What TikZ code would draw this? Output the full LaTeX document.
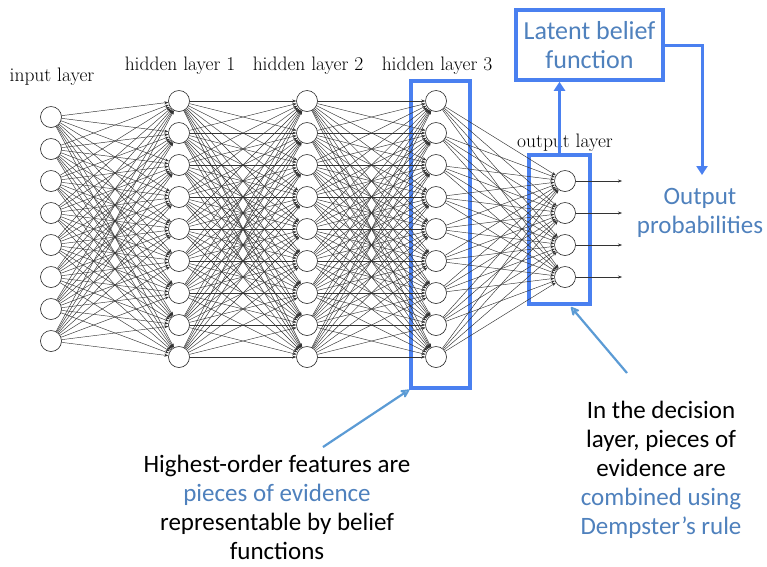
\documentclass[tikz,border=0pt]{standalone}
\usepackage{fontspec}
\newfontfamily\carl{Carlito}
\usetikzlibrary{arrows.meta}
\definecolor{boxblue}{HTML}{4A80F0}
\definecolor{txtblue}{HTML}{4F81BD}
\definecolor{arrblue}{HTML}{5B9BD5}
\begin{document}
\begin{tikzpicture}[x=1pt,y=-1pt,
  neuron/.style={circle,draw=black!85,line width=0.6pt,fill=white,minimum size=21pt,inner sep=0pt},
  edge/.style={draw=black!80,line width=0.45pt,-{Stealth[length=4pt,width=3pt]}},
  lbl/.style={font=\fontsize{19.5}{22}\selectfont,inner sep=0pt},
  bbox/.style={draw=boxblue,line width=3.5pt,inner sep=0pt},
  ctext/.style={font=\carl\fontsize{25}{29}\selectfont,align=center,inner sep=0pt},
  bconn/.style={draw=boxblue,line width=3pt,-{Triangle[length=9pt,width=11pt]}},
  pointer/.style={draw=arrblue,line width=2.2pt,-{Stealth[length=11pt,width=11pt,open,round]}}]
\useasboundingbox (0,0) rectangle (767,566);
\fill[white] (0,0) rectangle (767,566);
% highlight boxes
\node[bbox,minimum width=59pt,minimum height=307pt] (h3box) at (440.5,234.5) {};
\node[bbox,minimum width=61pt,minimum height=149pt] (outbox) at (559.5,229.5) {};
% neurons
\foreach \i in {1,...,8} \node[neuron] (in-\i) at (51,{117+32*(\i-1)}) {};
\foreach \i in {1,...,9} {
  \node[neuron] (ha-\i) at (179,{101+32*(\i-1)}) {};
  \node[neuron] (hb-\i) at (307,{101+32*(\i-1)}) {};
  \node[neuron] (hc-\i) at (436,{101+32*(\i-1)}) {};
}
\foreach \i in {1,...,4} \node[neuron] (out-\i) at (565,{181+32*(\i-1)}) {};
% edges
\foreach \i in {1,...,8} \foreach \j in {1,...,9} \draw[edge] (in-\i) -- (ha-\j);
\foreach \i in {1,...,9} \foreach \j in {1,...,9} {
  \draw[edge] (ha-\i) -- (hb-\j);
  \draw[edge] (hb-\i) -- (hc-\j);
}
\foreach \i in {1,...,9} \foreach \j in {1,...,4} \draw[edge] (hc-\i) -- (out-\j);
\foreach \i in {1,...,4} {
  \coordinate (o-\i) at (622,{181+32*(\i-1)});
  \draw[edge] (out-\i) -- (o-\i);
}
% layer labels
\node[lbl] (l0) at (52,77) {input layer};
\node[lbl] (l1) at (180,66) {hidden layer 1};
\node[lbl] (l2) at (308,66) {hidden layer 2};
\node[lbl] (l3) at (437,66) {hidden layer 3};
\node[lbl] (l4) at (565,143) {output layer};
% latent belief box
\node[bbox,fill=white,minimum width=147pt,minimum height=70pt,ctext,text=txtblue,font=\carl\fontsize{26}{29}\selectfont] (latent) at (589.5,45) {Latent belief\\function};
\node[ctext,text=txtblue] (prob) at (700,213) {Output\\probabilities};
\coordinate (probtop) at (702,175);
\draw[bconn] (outbox.north) -- (outbox.north |- latent.south);
\draw[bconn] (latent.east) -| (probtop);
% bottom texts
\node[ctext] (lefttext) at (277,507) {Highest-order features are\\\textcolor{txtblue}{pieces of evidence}\\representable by belief\\functions};
\node[ctext] (righttext) at (661,470) {In the decision\\layer, pieces of\\evidence are\\\textcolor{txtblue}{combined using}\\\textcolor{txtblue}{Dempster’s rule}};
\coordinate (la) at (323,447);
\coordinate (ra) at (627,373);
\coordinate (rb) at (571,307);
\draw[pointer] (la) -- (h3box.south west);
\draw[pointer] (ra) -- (rb);
\end{tikzpicture}
\end{document}
